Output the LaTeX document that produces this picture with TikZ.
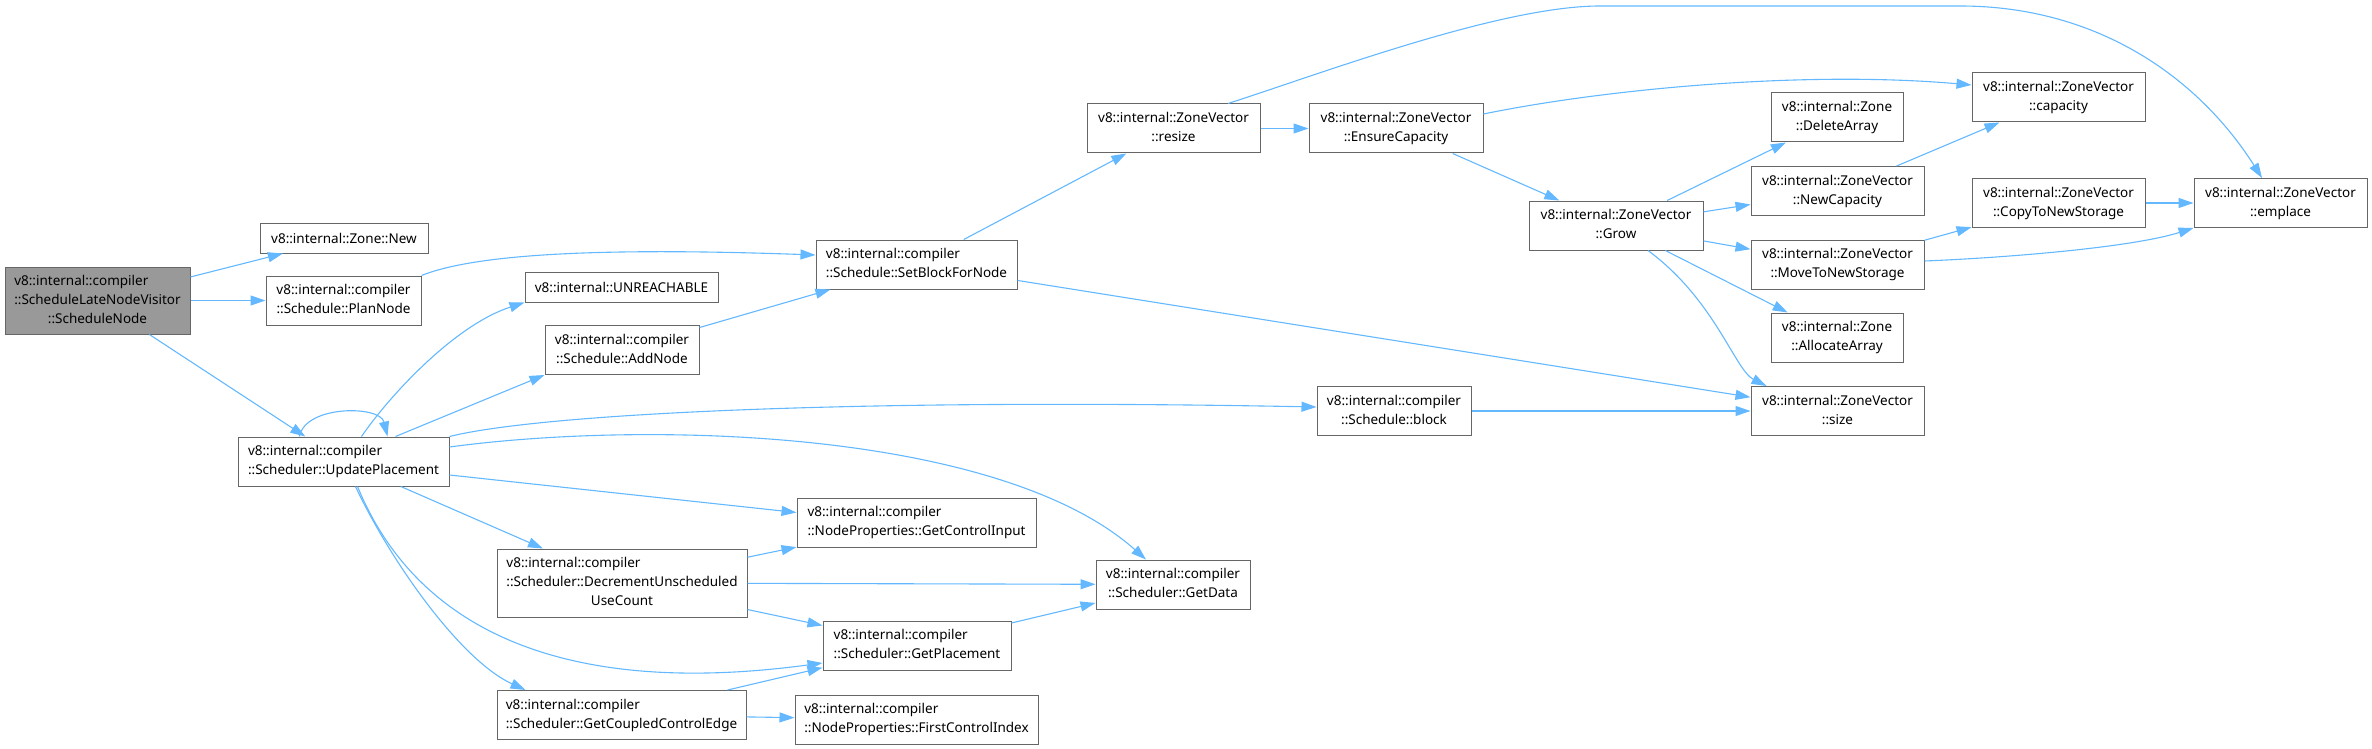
\documentclass[tikz,border=0pt]{standalone}
\usepackage{fontspec}
\setmainfont{Noto Sans}
\usetikzlibrary{positioning,arrows.meta}

\definecolor{edgeblue}{HTML}{63B8FF}
\definecolor{boxgray}{HTML}{666666}
\definecolor{rootfill}{HTML}{999999}

% labels: all lines left, the last one centred
\newcommand{\twoline}[2]{\begin{tabular}{@{}l@{}}#1\\\multicolumn{1}{@{}c@{}}{#2}\end{tabular}}
\newcommand{\threeline}[3]{\begin{tabular}{@{}l@{}}#1\\#2\\\multicolumn{1}{@{}c@{}}{#3}\end{tabular}}

\begin{document}
\begin{tikzpicture}[x=1pt,y=-1pt,
			every node/.style={
				draw=boxgray,
				line width=1pt,
				fill=white,
				inner sep=0pt,
				minimum height=49pt,
				font=\fontsize{13.5}{19}\selectfont},
			call/.style={draw=edgeblue,line width=1.1pt,
				-{Triangle[length=15pt,width=10pt]}}]
			
			\useasboundingbox (0,0) rectangle (2372,749);
			
			\node[fill=rootfill,minimum width=185pt,minimum height=67pt] (sln) at (97.5,300.5) {\threeline{v8::internal::compiler}{::ScheduleLateNodeVisitor}{::ScheduleNode}};
			
			\node[minimum width=168pt,minimum height=30pt] (znew) at (344,238) {v8::internal::Zone::New};
			\node[minimum width=155pt] (plan) at (343.5,300.5) {\twoline{v8::internal::compiler}{::Schedule::PlanNode}};
			\node[minimum width=211pt] (upd) at (343.5,461.5) {\twoline{v8::internal::compiler}{::Scheduler::UpdatePlacement}};
			
			\node[minimum width=193pt,minimum height=30pt] (unr) at (621.5,287) {v8::internal::UNREACHABLE};
			\node[minimum width=154pt] (addn) at (622,350) {\twoline{v8::internal::compiler}{::Schedule::AddNode}};
			\node[minimum width=250pt,minimum height=68pt] (dec) at (622,583) {\threeline{v8::internal::compiler}{::Scheduler::DecrementUnscheduled}{UseCount}};
			\node[minimum width=249pt] (gcce) at (621.5,715) {\twoline{v8::internal::compiler}{::Scheduler::GetCoupledControlEdge}};
			
			\node[minimum width=201pt] (setb) at (916.5,264.5) {\twoline{v8::internal::compiler}{::Schedule::SetBlockForNode}};
			\node[minimum width=239pt] (gci) at (916.5,522.5) {\twoline{v8::internal::compiler}{::NodeProperties::GetControlInput}};
			\node[minimum width=188pt] (gpl) at (917,645.5) {\twoline{v8::internal::compiler}{::Scheduler::GetPlacement}};
			\node[minimum width=243pt] (fci) at (916.5,719.5) {\twoline{v8::internal::compiler}{::NodeProperties::FirstControlIndex}};
			
			\node[minimum width=154pt] (gdata) at (1173,584.5) {\twoline{v8::internal::compiler}{::Scheduler::GetData}};
			\node[minimum width=173pt] (resize) at (1173.5,128.5) {\twoline{v8::internal::ZoneVector}{::resize}};
			\node[minimum width=174pt,right=48pt of resize] (ensc) {\twoline{v8::internal::ZoneVector}{::EnsureCapacity}};
			\node[minimum width=154pt] (blk) at (1394,411) {\twoline{v8::internal::compiler}{::Schedule::block}};
			
			\node[minimum width=174pt] (grow) at (1616,225.5) {\twoline{v8::internal::ZoneVector}{::Grow}};
			
			\node[minimum width=132pt] (dela) at (1837,117.5) {\twoline{v8::internal::Zone}{::DeleteArray}};
			\node[minimum width=173pt] (newc) at (1837.5,191) {\twoline{v8::internal::ZoneVector}{::NewCapacity}};
			\node[minimum width=173pt] (mvns) at (1837.5,264.5) {\twoline{v8::internal::ZoneVector}{::MoveToNewStorage}};
			\node[minimum width=132pt] (alla) at (1837,337.5) {\twoline{v8::internal::Zone}{::AllocateArray}};
			\node[minimum width=173pt] (size) at (1837.5,411) {\twoline{v8::internal::ZoneVector}{::size}};
			
			\node[minimum width=173pt] (cap) at (2058.5,97.5) {\twoline{v8::internal::ZoneVector}{::capacity}};
			\node[minimum width=173pt] (cpns) at (2058.5,203) {\twoline{v8::internal::ZoneVector}{::CopyToNewStorage}};
			\node[minimum width=173pt,right=48pt of cpns] (emp) {\twoline{v8::internal::ZoneVector}{::emplace}};
			
			% ScheduleNode
			\draw[call] (sln)--(znew);
			\draw[call] (sln)--(plan);
			\draw[call] (sln)--(upd);
			\draw[call] (plan.north east) .. controls (480,252) and (620,248) .. ([yshift=9.5pt]setb.west);
			
			% UpdatePlacement
			\draw[call] ([xshift=-44pt]upd.north) .. controls (305,405) and (380,405) .. ([xshift=44pt]upd.north);
			\draw[call] ([xshift=18pt]upd.north) .. controls (390,395) and (455,325) .. (unr.south west);
			\draw[call] ([xshift=52pt]upd.north)--(addn.south west);
			\draw[call] (upd.north east) .. controls (540,414) and (850,398) .. ([yshift=4pt]blk.west);
			\draw[call] ([yshift=14.5pt]upd.east) .. controls (650,420) and (1000,430) .. ([xshift=-27pt]gdata.north);
			\draw[call] ([yshift=-13.5pt]upd.east)--([yshift=10pt]gci.west);
			\draw[call] (upd)--(dec);
			\draw[call] ([xshift=14pt]upd.south) .. controls (400,590) and (510,705) .. ([yshift=-17.5pt]gpl.west);
			\draw[call] ([xshift=12pt]upd.south) .. controls (390,560) and (460,660) .. ([xshift=-96pt]gcce.north);
			
			\draw[call] (addn)--(setb);
			\draw[call] (dec)--(gci);
			\draw[call] (dec)--(gdata);
			\draw[call] (dec)--(gpl);
			\draw[call] (gcce)--(gpl);
			\draw[call] (gcce)--(fci);
			\draw[call] (gpl)--(gdata);
			
			% SetBlockForNode
			\draw[call] (setb)--(resize);
			\draw[call] (setb)--(size);
			\draw[call] (blk)--(size);
			
			% ZoneVector
			\draw[call] (resize)--(ensc);
			\draw[call] ([xshift=54.5pt]resize.north) .. controls (1320,74) and (1500,6) .. (1600,6)
				-- (1960,6) .. controls (2100,6) and (2200,80) .. ([xshift=-18.5pt]emp.north);
			\draw[call] ([yshift=14.5pt]ensc.east) .. controls (1600,90) and (1800,70) .. ([yshift=12.5pt]cap.west);
			\draw[call] (ensc)--(grow);
			
			\draw[call] (grow)--(dela);
			\draw[call] (grow)--(newc);
			\draw[call] (grow)--(mvns);
			\draw[call] (grow)--(alla);
			\draw[call] ([xshift=32pt]grow.south) .. controls (1715,300) and (1735,370) .. ([xshift=-71pt]size.north);
			
			\draw[call] (newc)--(cap);
			\draw[call] (mvns)--(cpns);
			\draw[call] ([yshift=3.5pt]mvns.east) .. controls (2000,258) and (2130,248) .. (emp.south west);
			\draw[call] (cpns)--(emp);
			
		\end{tikzpicture}
\end{document}
